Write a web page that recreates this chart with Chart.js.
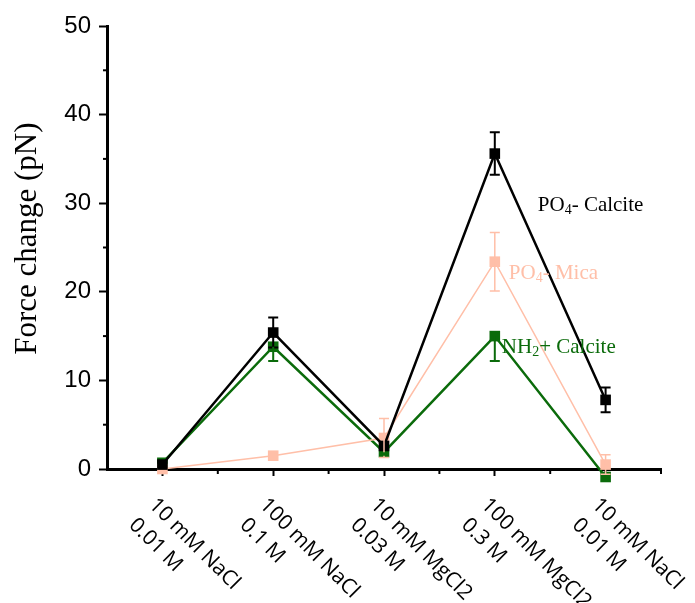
<!DOCTYPE html>
<html>
<head>
<meta charset="utf-8">
<script src="https://cdn.jsdelivr.net/npm/chart.js@4/dist/chart.umd.min.js"></script>
<style>
  html, body { margin: 0; padding: 0; background: #fff; }
  #wrap { width: 695px; height: 603px; position: relative; }
</style>
</head>
<body>
<div id="wrap"><canvas id="chart"></canvas></div>
<script>
// ── Data ─────────────────────────────────────────────────────
const categories = [
  ['10 mM NaCl', '0.01 M'],
  ['100 mM NaCl', '0.1 M'],
  ['10 mM MgCl2', '0.03 M'],
  ['100 mM MgCl2', '0.3 M'],
  ['10 mM NaCl', '0.01 M']
];
const yTicks = [0, 10, 20, 30, 40, 50];

const calcitePO4     = [0.5, 15.4, 2.6, 35.6, 7.8];
const calcitePO4Up   = [0, 1.7, 0.4, 2.4, 1.4];
const calcitePO4Down = [0, 1.7, 0.4, 2.4, 1.4];

const micaPO4     = [0.0, 1.5, 3.5, 23.4, 0.5];
const micaPO4Up   = [0, 0, 2.2, 3.3, 1.1];
const micaPO4Down = [0, 0, 2.2, 3.3, 1.1];

const calciteNH2     = [0.7, 13.8, 1.9, 15.0, -0.9];
const calciteNH2Up   = [0, 0, 0, 0, 0];
const calciteNH2Down = [0, 1.6, 0.3, 2.8, 0];

const BLACK = '#000000', PINK = '#ffbfa8', GREEN = '#0b6b0b';

// ── Error bars ───────────────────────────────────────────────
const errorBars = {
  id: 'errorBars',
  afterDatasetsDraw(chart) {
    const { ctx, scales: { x, y } } = chart;
    chart.data.datasets.forEach(ds => {
      if (!ds.errUp) return;
      ctx.save();
      ctx.strokeStyle = ds.borderColor;
      ctx.lineWidth = ds.errWidth || 1.5;
      ds.data.forEach((v, i) => {
        const px = x.getPixelForValue(i);
        const cap = 5;
        [[ds.errUp[i], 1], [ds.errDown[i], -1]].forEach(([e, s]) => {
          if (!e) return;
          const p0 = y.getPixelForValue(v), p1 = y.getPixelForValue(v + s * e);
          ctx.beginPath();
          ctx.moveTo(px, p0); ctx.lineTo(px, p1);
          ctx.moveTo(px - cap, p1); ctx.lineTo(px + cap, p1);
          ctx.stroke();
        });
      });
      ctx.restore();
    });
  }
};

// ── Axis decorations: minor ticks, slanted category labels, titles ──
const axisDeco = {
  id: 'axisDeco',
  afterDraw(chart) {
    const { ctx, chartArea: a, scales: { x, y } } = chart;
    ctx.save();
    ctx.strokeStyle = '#000';
    ctx.lineWidth = 2;
    // y minor ticks
    for (let v = 5; v < 50; v += 10) {
      const py = y.getPixelForValue(v);
      ctx.beginPath(); ctx.moveTo(a.left - 4, py); ctx.lineTo(a.left, py); ctx.stroke();
    }
    // x minor ticks at category boundaries
    for (let i = 0; i < categories.length; i++) {
      const px = x.getPixelForValue(i + 0.5);
      ctx.beginPath(); ctx.moveTo(px, a.bottom); ctx.lineTo(px, a.bottom + 5); ctx.stroke();
    }
    // slanted category labels
    ctx.fillStyle = '#000';
    ctx.font = '21px "Open Sans"';
    ctx.textAlign = 'left';
    ctx.textBaseline = 'top';
    categories.forEach((lines, i) => {
      const px = x.getPixelForValue(i);
      ctx.save();
      ctx.translate(px, a.bottom);
      ctx.rotate(Math.PI / 4);
      lines.forEach((t, k) => ctx.fillText(t, 16, 20 + k * 28));
      ctx.restore();
    });
    // y axis title
    ctx.save();
    ctx.translate(28, y.getPixelForValue(26));
    ctx.rotate(-Math.PI / 2);
    ctx.textAlign = 'center';
    ctx.textBaseline = 'middle';
    ctx.font = '31px "Liberation Serif"';
    ctx.fillText('Force change (pN)', 0, 0);
    ctx.restore();
    // series labels
    const rich = (parts, px, py, color) => {
      ctx.fillStyle = color;
      ctx.textAlign = 'left';
      ctx.textBaseline = 'alphabetic';
      let cx = px;
      parts.forEach(([t, sub]) => {
        ctx.font = sub ? '14px "Liberation Serif"' : '21px "Liberation Serif"';
        ctx.fillText(t, cx, py + (sub ? 3 : 0));
        cx += ctx.measureText(t).width;
      });
    };
    const lx = x.getPixelForValue(3);
    rich([['PO'], ['4', 1], ['- Calcite']], lx + 43, y.getPixelForValue(29.1), BLACK);
    rich([['PO'], ['4', 1], ['- Mica']], lx + 14, y.getPixelForValue(21.5), PINK);
    rich([['NH'], ['2', 1], ['+ Calcite']], lx + 7, y.getPixelForValue(13.1), GREEN);
    ctx.restore();
  }
};

const pointOpts = color => ({
  borderColor: color, backgroundColor: color,
  pointStyle: 'rect', pointRadius: 7.5, pointHoverRadius: 14,
  pointBorderWidth: 0, clip: false, tension: 0
});

new Chart(document.getElementById('chart'), {
  type: 'line',
  data: {
    labels: categories.map(c => c.join(' ')),
    datasets: [
      { ...pointOpts(BLACK), data: calcitePO4, borderWidth: 2.5, errUp: calcitePO4Up, errDown: calcitePO4Down, errWidth: 2 },
      { ...pointOpts(PINK), data: micaPO4, borderWidth: 1.5, errUp: micaPO4Up, errDown: micaPO4Down, errWidth: 1.5 },
      { ...pointOpts(GREEN), data: calciteNH2, borderWidth: 2.5, errUp: calciteNH2Up, errDown: calciteNH2Down, errWidth: 2 }
    ]
  },
  options: {
    responsive: true,
    maintainAspectRatio: false,
    animation: false,
    events: [],
    layout: { padding: { top: 26, right: 34, left: 0, bottom: 0 } },
    plugins: { legend: { display: false }, tooltip: { enabled: false } },
    scales: {
      x: {
        offset: true,
        afterFit: s => { s.height = 134; },
        border: { color: '#000', width: 3 },
        grid: { drawOnChartArea: false, drawTicks: true, tickLength: 7, tickWidth: 2, tickColor: '#000', offset: false },
        ticks: { display: false }
      },
      y: {
        min: 0, max: 50,
        afterFit: s => { s.width = 107; },
        afterBuildTicks: s => { s.ticks = yTicks.map(v => ({ value: v })); },
        border: { color: '#000', width: 3 },
        grid: { drawOnChartArea: false, drawTicks: true, tickLength: 8, tickWidth: 2, tickColor: '#000' },
        ticks: { color: '#000', padding: 8, font: { family: 'Liberation Sans', size: 24 } }
      }
    }
  },
  plugins: [errorBars, axisDeco]
});
</script>
</body>
</html>
